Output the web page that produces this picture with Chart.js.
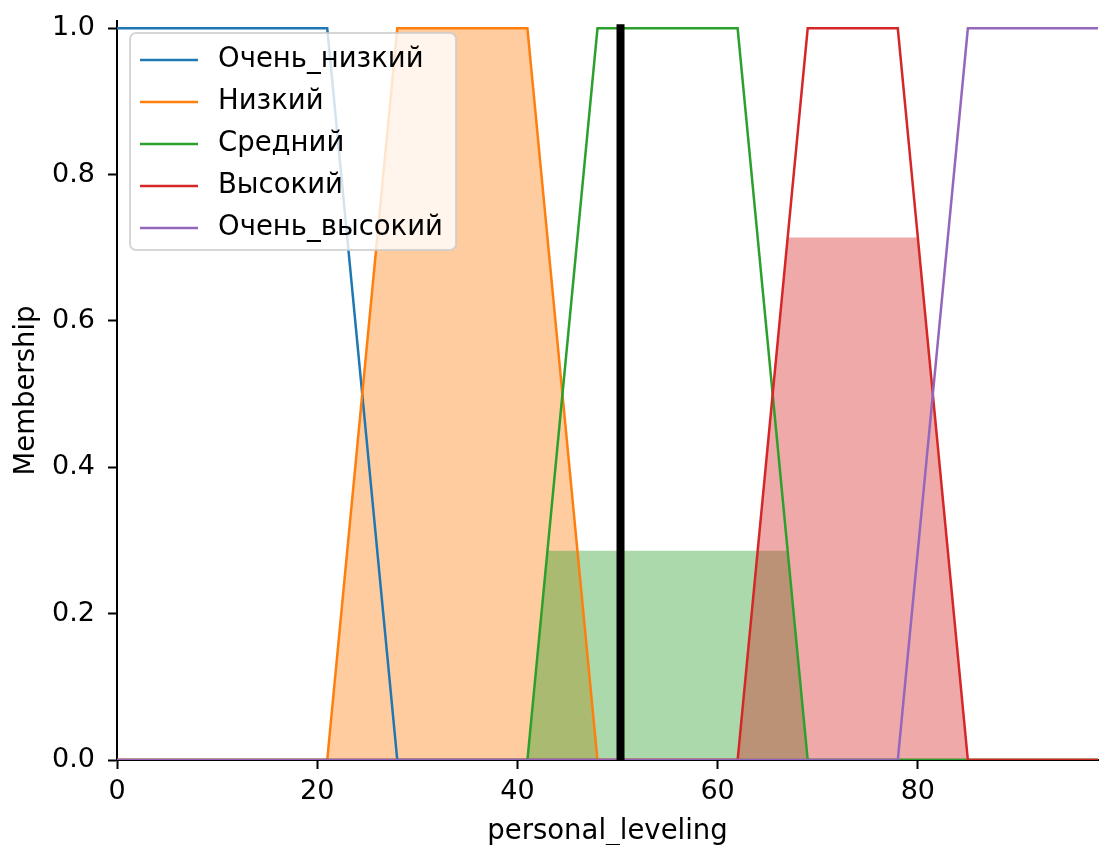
<!DOCTYPE html>
<html>
<head>
<meta charset="utf-8">
<script src="https://cdn.jsdelivr.net/npm/chart.js@4.4.1/dist/chart.umd.min.js"></script>
<style>
  html, body { margin: 0; padding: 0; background: #fff; }
  #wrap { width: 1100px; height: 845px; position: relative; }
</style>
</head>
<body>
<div id="wrap"><canvas id="c" width="1100" height="845"></canvas></div>
<script>
// ---- data ----
const termNames = ['Очень_низкий', 'Низкий', 'Средний', 'Высокий', 'Очень_высокий'];
const termColors = ['#1f77b4', '#ff7f0e', '#2ca02c', '#d62728', '#9467bd'];

const vlowX  = [0, 21, 28, 98];          const vlowY  = [1, 1, 0, 0];
const lowX   = [0, 21, 28, 41, 48, 98];  const lowY   = [0, 0, 1, 1, 0, 0];
const midX   = [0, 41, 48, 62, 69, 98];  const midY   = [0, 0, 1, 1, 0, 0];
const highX  = [0, 62, 69, 78, 85, 98];  const highY  = [0, 0, 1, 1, 0, 0];
const vhighX = [0, 78, 85, 98];          const vhighY = [0, 0, 1, 1];

// activated (clipped) regions
const lowActX  = [21, 28, 41, 48];  const lowActY  = [0, 1, 1, 0];
const midActX  = [41, 43, 67, 69];  const midActY  = [0, 0.286, 0.286, 0];
const highActX = [62, 67, 80, 85];  const highActY = [0, 0.714, 0.714, 0];

// crisp output
const crispX = [50.3, 50.3]; const crispY = [0, 1];

const xTicks = [0, 20, 40, 60, 80];
const yTicks = [0, 0.2, 0.4, 0.6, 0.8, 1.0];
const xLabel = 'personal_leveling';
const yLabel = 'Membership';

// ---- helpers ----
const pts = (xs, ys) => xs.map((x, i) => ({x: x, y: ys[i]}));
const FONT = '"DejaVu Sans", sans-serif';
const FS = 27;

const termSeries = [[vlowX, vlowY], [lowX, lowY], [midX, midY], [highX, highY], [vhighX, vhighY]];
const actSeries = [[lowActX, lowActY, 'rgba(255,127,14,0.4)'], [midActX, midActY, 'rgba(44,160,44,0.4)'], [highActX, highActY, 'rgba(214,39,40,0.4)']];

const datasets = [];
actSeries.forEach((s, i) => {
  datasets.push({
    label: '_fill' + i, data: pts(s[0], s[1]), showLine: true, fill: 'origin',
    backgroundColor: s[2], borderWidth: 0, borderColor: 'rgba(0,0,0,0)',
    pointRadius: 0, order: 20 - i, isLegend: false
  });
});
termSeries.forEach((s, i) => {
  datasets.push({
    label: termNames[i], data: pts(s[0], s[1]), showLine: true, fill: false,
    borderColor: termColors[i], backgroundColor: termColors[i], borderWidth: 2.5,
    pointRadius: 0, order: 10 - i, isLegend: true
  });
});
datasets.push({
  label: '_crisp', data: pts(crispX, crispY), showLine: true, fill: false,
  borderColor: '#000', borderWidth: 8, borderCapStyle: 'square', pointRadius: 0, order: 0, isLegend: false
});

const legendPlugin = {
  id: 'boxLegend',
  afterDraw(chart) {
    const ctx = chart.ctx, ca = chart.chartArea;
    const items = chart.data.datasets.filter(d => d.isLegend);
    ctx.save();
    ctx.font = '27.5px ' + FONT;
    let maxW = 0;
    items.forEach(d => { maxW = Math.max(maxW, ctx.measureText(d.label).width); });
    const bx = 130, by = ca.top + 12;
    const textX = bx + 88, rowH = 42, firstY = by + 27;
    const bw = (textX - bx) + maxW + 13;
    const bh = 27 + rowH * (items.length - 1) + 22;
    const r = 6;
    ctx.beginPath();
    ctx.moveTo(bx + r, by);
    ctx.arcTo(bx + bw, by, bx + bw, by + bh, r);
    ctx.arcTo(bx + bw, by + bh, bx, by + bh, r);
    ctx.arcTo(bx, by + bh, bx, by, r);
    ctx.arcTo(bx, by, bx + bw, by, r);
    ctx.closePath();
    ctx.fillStyle = 'rgba(255,255,255,0.8)';
    ctx.fill();
    ctx.lineWidth = 2;
    ctx.strokeStyle = 'rgba(204,204,204,0.8)';
    ctx.stroke();
    items.forEach((d, i) => {
      const y = firstY + i * rowH;
      ctx.beginPath();
      ctx.moveTo(bx + 10, y);
      ctx.lineTo(bx + 68, y);
      ctx.lineWidth = 2.5;
      ctx.strokeStyle = d.borderColor;
      ctx.stroke();
      ctx.fillStyle = '#000';
      ctx.textBaseline = 'middle';
      ctx.textAlign = 'left';
      ctx.fillText(d.label, textX, y);
    });
    ctx.restore();
  }
};

new Chart(document.getElementById('c'), {
  type: 'scatter',
  data: { datasets: datasets },
  plugins: [legendPlugin],
  options: {
    responsive: false,
    animation: false,
    layout: { padding: { left: 0, right: 2, top: 21, bottom: 0 } },
    plugins: { legend: { display: false }, tooltip: { enabled: false } },
    scales: {
      x: {
        type: 'linear', min: 0, max: 98,
        afterBuildTicks: (s) => { s.ticks = xTicks.map(v => ({value: v})); },
        afterFit: (s) => { s.height = 85; s.paddingLeft = 0; s.paddingRight = 0; },
        ticks: { callback: v => String(v), color: '#000', padding: 7, font: { family: FONT, size: FS }, maxRotation: 0, autoSkip: false },
        grid: { display: true, drawOnChartArea: false, drawTicks: true, tickLength: 9, tickWidth: 2, color: '#000' },
        border: { display: true, color: '#000', width: 2 },
        title: { display: true, text: xLabel, color: '#000', font: { family: FONT, size: 27.5, lineHeight: 1 }, padding: { top: 0, bottom: -1 } }
      },
      y: {
        type: 'linear', min: 0, max: 1.01,
        afterBuildTicks: (s) => { s.ticks = yTicks.map(v => ({value: v})); },
        afterFit: (s) => { s.width = 117; s.paddingTop = 0; s.paddingBottom = 0; },
        ticks: { callback: v => v.toFixed(1), color: '#000', padding: 13, font: { family: FONT, size: FS }, autoSkip: false },
        grid: { display: true, drawOnChartArea: false, drawTicks: true, tickLength: 9, tickWidth: 2, color: '#000' },
        border: { display: true, color: '#000', width: 2 },
        title: { display: true, text: yLabel, color: '#000', font: { family: FONT, size: 27.5, lineHeight: 1 }, padding: { top: 13, bottom: 0 } }
      }
    }
  }
});
</script>
</body>
</html>
